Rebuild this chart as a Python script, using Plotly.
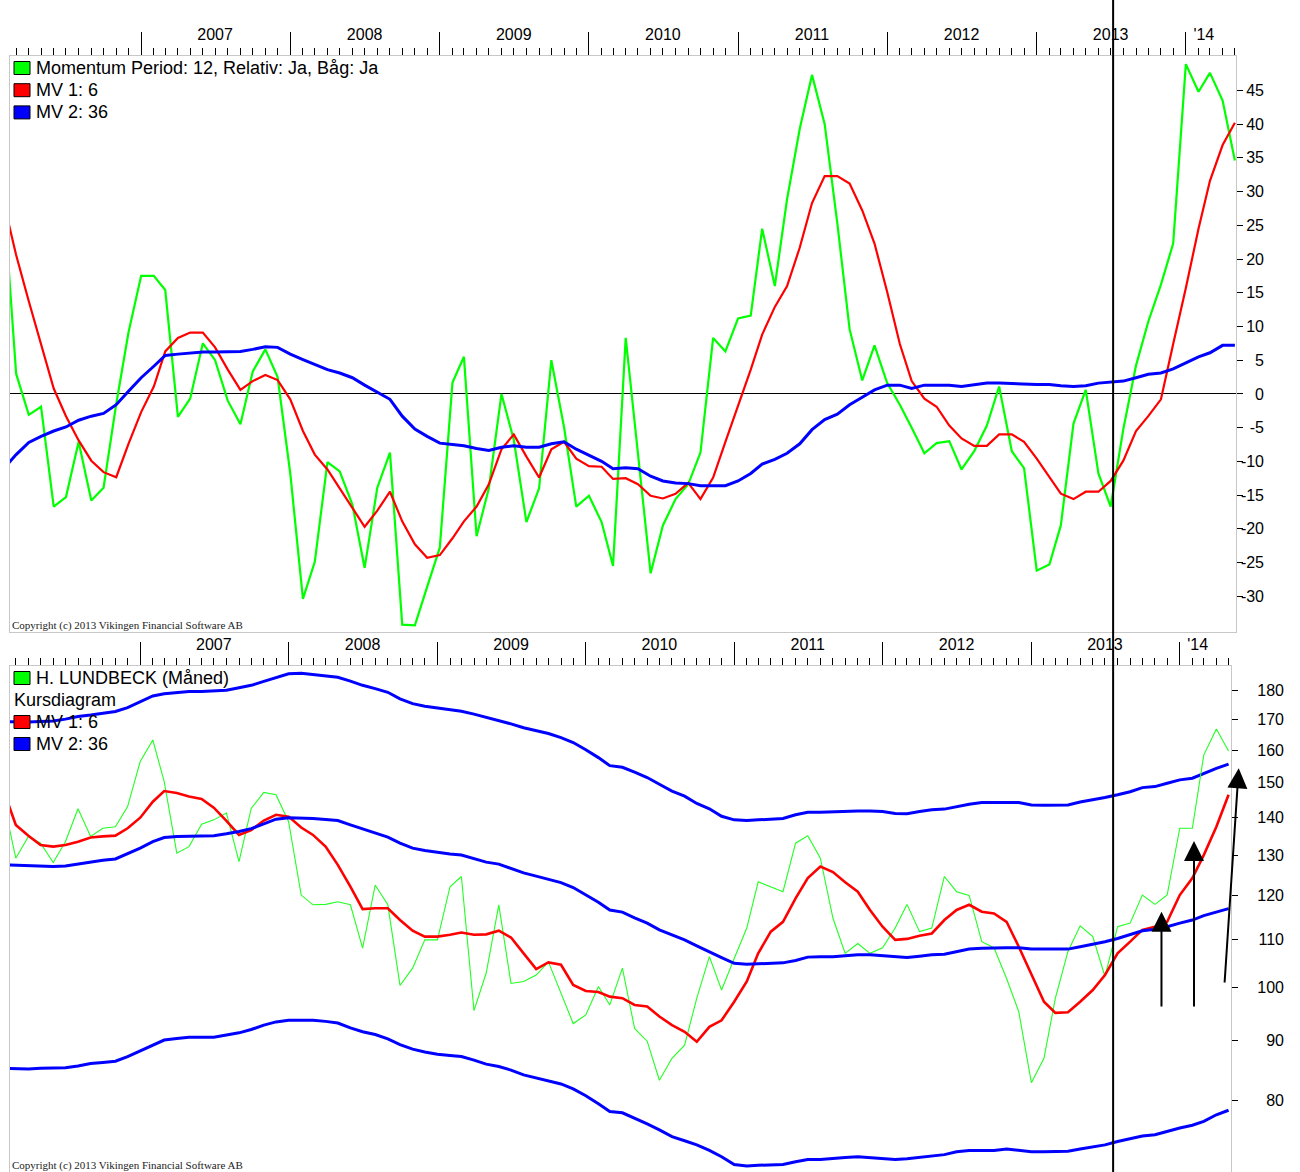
import math
import plotly.graph_objects as go

W, H = 1300, 1172

# ---------------- data (monthly, first point Feb 2006) ----------------
FIRST_YEAR, FIRST_MONTH, N = 2006, 2, 100
dates = []
for k in range(N):
    idx = FIRST_MONTH - 1 + k
    dates.append(f"{FIRST_YEAR + idx // 12}-{idx % 12 + 1:02d}-01")

momentum = [27.0, 3.0, -3.1, -1.9, -16.7, -15.3, -7.1, -15.8, -13.9, -1.5,
            9.1, 17.5, 17.5, 15.4, -3.4, -0.7, 7.5, 5.0, -1.0, -4.5,
            3.3, 6.6, 2.5, -11.8, -30.4, -24.9, -10.1, -11.5, -16.4, -25.8,
            -13.9, -8.7, -34.2, -34.3, -28.6, -22.8, 1.7, 5.5, -21.1, -14.0,
            0.0, -6.8, -19.0, -14.0, 5.0, -4.9, -16.7, -15.1, -19.0, -25.5,
            8.3, -9.0, -26.6, -19.5, -15.6, -13.4, -8.7, 8.3, 6.3, 11.2,
            11.6, 24.5, 16.0, 28.9, 39.3, 47.3, 40.0, 25.3, 9.6, 2.0,
            7.2, 1.6, -1.6, -5.0, -8.8, -7.3, -7.0, -11.2, -8.5, -4.7,
            1.1, -8.5, -11.0, -26.2, -25.3, -19.5, -4.4, 0.6, -11.8, -16.7,
            -5.2, 4.2, 10.7, 16.2, 22.3, 48.9, 44.8, 47.6, 43.5, 34.6]

momentum_mv6 = [27.8, 20.6, 13.75, 7.4, 0.8, -3.3, -6.9, -9.9, -11.6, -12.35,
                -7.4, -2.7, 1.1, 6.3, 8.3, 9.1, 9.1, 6.9, 3.6, 0.6,
                1.9, 2.8, 2.05, -0.8, -5.5, -9.0, -11.2, -14.0, -17.0, -19.7,
                -17.3, -14.5, -18.9, -22.3, -24.3, -23.9, -21.4, -18.9, -16.7, -13.4,
                -8.2, -6.0, -9.3, -12.4, -8.2, -7.1, -9.6, -10.7, -10.8, -12.6,
                -12.5, -13.4, -15.1, -15.5, -14.8, -13.2, -15.6, -12.4, -7.1, -1.9,
                3.6, 8.8, 12.9, 16.0, 21.7, 28.3, 32.3, 32.3, 31.2, 27.2,
                22.3, 15.1, 7.4, 1.9, -0.7, -1.9, -4.7, -6.6, -7.7, -7.7,
                -6.0, -6.0, -7.1, -9.6, -12.4, -14.8, -15.6, -14.5, -14.5, -12.9,
                -9.9, -5.5, -3.3, -0.8, 7.4, 15.7, 24.5, 31.6, 36.9, 40.2]

momentum_mv36 = [-10.9, -9.0, -7.2, -6.3, -5.5, -4.9, -3.9, -3.3, -2.9, -1.6,
                 0.4, 2.4, 4.1, 5.7, 5.9, 6.1, 6.2, 6.2, 6.2, 6.3,
                 6.6, 7.0, 6.9, 5.9, 5.1, 4.4, 3.6, 3.1, 2.4, 1.3,
                 0.3, -0.8, -3.3, -5.2, -6.3, -7.3, -7.5, -7.7, -8.1, -8.4,
                 -7.9, -7.7, -7.9, -7.9, -7.4, -7.1, -8.2, -9.05, -10.0, -11.1,
                 -10.95, -11.1, -12.2, -12.9, -13.2, -13.3, -13.6, -13.6, -13.6, -12.9,
                 -11.8, -10.4, -9.7, -8.8, -7.4, -5.3, -3.8, -3.0, -1.6, -0.5,
                 0.6, 1.3, 1.3, 0.8, 1.3, 1.3, 1.3, 1.1, 1.4, 1.6,
                 1.6, 1.5, 1.5, 1.4, 1.4, 1.2, 1.1, 1.2, 1.6, 1.8,
                 1.9, 2.4, 2.9, 3.1, 3.7, 4.6, 5.5, 6.1, 7.2, 7.2]

price = [143.4, 129.2, 134.9, 133.1, 128.1, 133.5, 142.5, 134.9, 137.1, 137.5,
         143.1, 156.5, 163.3, 150.4, 130.5, 132.2, 138.2, 139.4, 141.3, 128.3,
         142.6, 147.2, 146.5, 138.9, 120.1, 117.8, 117.9, 118.5, 117.8, 108.1,
         122.5, 117.8, 100.4, 103.9, 109.9, 109.9, 122.1, 124.6, 95.5, 102.9,
         117.8, 100.8, 101.2, 102.5, 105.2, 98.8, 93.1, 94.7, 100.2, 96.6,
         103.9, 92.2, 89.9, 83.2, 86.9, 89.2, 97.9, 106.3, 99.5, 105.9,
         112.5, 123.3, 122.1, 120.9, 133.1, 135.1, 129.2, 114.7, 107.0, 109.1,
         107.0, 108.2, 112.5, 117.9, 111.7, 112.5, 124.6, 120.9, 120.0, 109.5,
         108.2, 101.8, 95.3, 82.8, 86.9, 97.9, 107.4, 113.0, 110.6, 102.2,
         112.8, 113.6, 120.1, 117.9, 120.1, 137.1, 137.1, 158.5, 166.9, 159.8]

price_mv6 = [147.0, 138.0, 135.1, 132.6, 132.2, 132.6, 133.5, 134.6, 134.9, 135.1,
             137.1, 140.0, 144.5, 147.6, 147.0, 146.0, 145.3, 142.8, 139.1, 135.3,
             136.6, 139.2, 140.8, 140.3, 137.3, 135.3, 132.2, 127.5, 122.1, 116.8,
             117.0, 117.0, 114.3, 111.9, 110.6, 110.6, 111.0, 111.5, 111.0, 111.1,
             111.9, 110.4, 107.0, 103.7, 105.1, 104.6, 100.5, 99.3, 99.1, 98.2,
             97.9, 96.6, 96.3, 94.4, 92.8, 91.6, 89.8, 92.5, 93.7, 97.2,
             101.2, 107.0, 111.7, 113.9, 119.3, 124.2, 127.1, 125.7, 123.2, 120.9,
             116.6, 112.8, 109.9, 110.1, 110.8, 111.3, 114.3, 116.6, 117.8, 116.2,
             115.8, 113.9, 108.4, 102.5, 97.2, 95.1, 95.2, 97.2, 99.5, 102.5,
             107.0, 109.5, 112.1, 112.8, 113.9, 120.1, 124.2, 130.0, 137.5, 146.5]

price_mv36 = [127.5, 127.4, 127.2, 127.1, 127.1, 127.2, 127.7, 128.2, 128.7, 129.0,
              130.3, 131.8, 133.5, 134.6, 134.9, 135.0, 135.0, 135.1, 135.6, 136.2,
              137.0, 138.3, 139.6, 140.0, 140.0, 139.8, 139.5, 139.2, 138.0, 136.9,
              135.9, 134.7, 133.1, 131.8, 131.2, 130.7, 130.3, 130.0, 129.0, 128.2,
              127.7, 126.6, 125.5, 124.7, 124.0, 123.1, 121.9, 120.1, 118.4, 116.6,
              116.1, 114.8, 113.6, 112.1, 111.0, 109.9, 108.6, 107.4, 106.1, 104.9,
              104.7, 104.8, 104.9, 105.0, 105.5, 106.2, 106.3, 106.3, 106.5, 106.7,
              106.7, 106.5, 106.2, 106.1, 106.4, 106.7, 106.8, 107.4, 107.9, 108.1,
              108.2, 108.2, 108.2, 107.9, 107.9, 107.9, 107.9, 108.4, 108.9, 109.5,
              110.2, 111.0, 111.9, 112.2, 112.8, 113.6, 114.3, 115.3, 116.2, 116.9]

band_upper = [169.4, 169.3, 169.2, 169.4, 169.6, 170.2, 171.1, 171.6, 172.1, 172.8,
              174.1, 176.2, 178.2, 179.0, 179.5, 179.8, 179.8, 180.0, 180.2, 181.1,
              182.0, 183.4, 184.9, 186.2, 186.4, 185.9, 185.6, 184.9, 183.5, 182.0,
              180.8, 179.5, 177.2, 175.5, 174.6, 174.1, 173.6, 172.9, 171.9, 170.8,
              169.9, 168.6, 167.3, 166.4, 165.4, 164.1, 162.5, 160.2, 157.7, 155.2,
              154.7, 153.2, 151.6, 149.6, 147.6, 146.1, 144.0, 142.5, 140.4, 139.4,
              139.2, 139.4, 139.6, 139.8, 140.8, 141.5, 141.5, 141.7, 141.9, 141.9,
              141.9, 141.7, 141.2, 141.1, 141.7, 142.2, 142.4, 143.1, 143.8, 144.3,
              144.4, 144.3, 144.3, 143.6, 143.5, 143.5, 143.6, 144.4, 145.0, 145.7,
              146.5, 147.4, 148.6, 148.9, 149.9, 150.9, 151.4, 152.9, 154.4, 155.7]

band_lower = [85.2, 85.1, 85.1, 85.2, 85.2, 85.3, 85.6, 86.0, 86.2, 86.4,
              87.2, 88.2, 89.3, 90.1, 90.4, 90.6, 90.6, 90.6, 91.0, 91.4,
              92.0, 92.8, 93.4, 93.7, 93.7, 93.7, 93.5, 93.2, 92.3, 91.6,
              91.1, 90.3, 89.3, 88.5, 88.0, 87.6, 87.4, 87.2, 86.6, 85.9,
              85.5, 84.9, 84.1, 83.6, 83.1, 82.6, 81.8, 80.7, 79.4, 78.2,
              78.0, 77.2, 76.3, 75.4, 74.4, 73.8, 73.2, 72.4, 71.5, 70.4,
              70.2, 70.3, 70.3, 70.4, 70.8, 71.1, 71.1, 71.3, 71.4, 71.5,
              71.4, 71.2, 71.1, 71.2, 71.4, 71.5, 71.8, 72.2, 72.4, 72.4,
              72.4, 72.6, 72.4, 72.2, 72.2, 72.2, 72.3, 72.6, 72.9, 73.2,
              73.7, 74.1, 74.5, 74.7, 75.2, 75.7, 76.1, 76.7, 77.7, 78.4]

year_ticks = ["2007-01-01", "2008-01-01", "2009-01-01", "2010-01-01",
              "2011-01-01", "2012-01-01", "2013-01-01", "2014-01-01"]
year_label_pos = ["2007-07-01", "2008-07-01", "2009-07-01", "2010-07-01",
                  "2011-07-01", "2012-07-01", "2013-07-01", "2014-02-14"]
year_labels = ["2007", "2008", "2009", "2010", "2011", "2012", "2013", "'14"]
mom_ticks = [-30, -25, -20, -15, -10, -5, 0, 5, 10, 15, 20, 25, 30, 35, 40, 45]
price_ticks = [80, 90, 100, 110, 120, 130, 140, 150, 160, 170, 180]

mark_date = "2013-07-07"
# arrows: (tail date, tail price, head date, head price)
arrows = [("2013-11-17", 96.0, "2013-11-17", 116.2),
          ("2014-02-05", 96.0, "2014-02-05", 133.7),
          ("2014-04-21", 100.7, "2014-05-26", 154.4)]

top_legend = [("#00ff00", "Momentum Period: 12, Relativ: Ja, Båg: Ja"),
              ("#ff0000", "MV 1: 6"),
              ("#0000ff", "MV 2: 36")]
bottom_legend = [("#00ff00", "H. LUNDBECK (Måned)"),
                 (None, "Kursdiagram"),
                 ("#ff0000", "MV 1: 6"),
                 ("#0000ff", "MV 2: 36")]
copyright_text = "Copyright (c) 2013 Vikingen Financial Software AB"

# ---------------- layout geometry (pixels) ----------------
TOP = dict(x0=10, x1=1236, y0=56, y1=632)
BOT = dict(x0=10, x1=1231, y0=666, y1=1172)
TOP_RANGE = ["2006-02-14", "2014-05-03 18:00"]
BOT_RANGE = ["2006-02-14 17:00", "2014-05-07"]
MOM_RANGE = [-35.3, 50.1]
PRICE_RANGE = [math.log10(69.37), math.log10(189.1)]
TOP_LABEL_RIGHT = 1264
BOT_LABEL_RIGHT = 1284

def px(x):
    return x / W

def py(y):
    return 1 - y / H

TICK_FONT = dict(family="Liberation Sans Narrow, Liberation Sans, Arial Narrow, sans-serif",
                 size=16, color="#000000")
LEG_FONT = dict(family="Liberation Sans, Arial, sans-serif", size=18, color="#000000")
COPY_FONT = dict(family="Liberation Serif, Times New Roman, serif", size=11, color="#222222")
BORDER = "#c8c8c8"

fig = go.Figure()

# top panel traces
fig.add_trace(go.Scatter(x=dates, y=momentum, mode="lines", xaxis="x", yaxis="y",
                         line=dict(color="#00ff00", width=2.2)))
fig.add_trace(go.Scatter(x=dates, y=momentum_mv6, mode="lines", xaxis="x", yaxis="y",
                         line=dict(color="#ff0000", width=2.2)))
fig.add_trace(go.Scatter(x=dates, y=momentum_mv36, mode="lines", xaxis="x", yaxis="y",
                         line=dict(color="#0000ff", width=3)))

# bottom panel traces
fig.add_trace(go.Scatter(x=dates, y=band_upper, mode="lines", xaxis="x2", yaxis="y2",
                         line=dict(color="#0000ff", width=3)))
fig.add_trace(go.Scatter(x=dates, y=band_lower, mode="lines", xaxis="x2", yaxis="y2",
                         line=dict(color="#0000ff", width=3)))
fig.add_trace(go.Scatter(x=dates, y=price, mode="lines", xaxis="x2", yaxis="y2",
                         line=dict(color="#22ff22", width=1.1)))
fig.add_trace(go.Scatter(x=dates, y=price_mv6, mode="lines", xaxis="x2", yaxis="y2",
                         line=dict(color="#ff0000", width=2.6)))
fig.add_trace(go.Scatter(x=dates, y=price_mv36, mode="lines", xaxis="x2", yaxis="y2",
                         line=dict(color="#0000ff", width=3)))

# invisible anchors for the label-only axes
fig.add_trace(go.Scatter(x=[dates[50]], y=[0], xaxis="x3", yaxis="y3", mode="markers",
                         marker=dict(opacity=0), hoverinfo="skip"))
fig.add_trace(go.Scatter(x=[dates[50]], y=[100], xaxis="x4", yaxis="y4", mode="markers",
                         marker=dict(opacity=0), hoverinfo="skip"))

minor = dict(tickmode="linear", tick0="2006-01-01", dtick="M1", ticks="outside",
             ticklen=7, tickwidth=1, tickcolor="#000000", showgrid=False)

def tick_axis(domain, anchor, rng):
    return dict(domain=domain, anchor=anchor, side="top", type="date", range=rng,
                tickmode="array", tickvals=year_ticks, showticklabels=False,
                ticks="outside", ticklen=23, tickwidth=1, tickcolor="#000000",
                minor=minor, showgrid=False, zeroline=False, showline=True,
                linecolor=BORDER, linewidth=1, mirror=True, fixedrange=True)

def xlabel_axis(over, anchor, rng):
    return dict(overlaying=over, anchor=anchor, side="top", type="date", range=rng,
                tickmode="array", tickvals=year_label_pos, ticktext=year_labels,
                ticks="", showline=False, showgrid=False, zeroline=False,
                tickfont=TICK_FONT, ticklabelstandoff=12, fixedrange=True)

def ylabel_axis(over, pos, rng, vals, typ):
    return dict(overlaying=over, anchor="free", position=pos, side="left", type=typ,
                range=rng, tickmode="array", tickvals=vals,
                ticktext=[str(v) for v in vals], ticks="", showline=False,
                showgrid=False, zeroline=False, tickfont=TICK_FONT,
                ticklabelstandoff=0, fixedrange=True)

fig.update_layout(
    width=W, height=H, autosize=False,
    margin=dict(l=0, r=0, t=0, b=0, pad=0),
    paper_bgcolor="white", plot_bgcolor="white",
    showlegend=False, hovermode=False,
    xaxis=tick_axis([px(TOP["x0"]), px(TOP["x1"])], "y", TOP_RANGE),
    xaxis2=tick_axis([px(BOT["x0"]), px(BOT["x1"])], "y2", BOT_RANGE),
    xaxis3=xlabel_axis("x", "y", TOP_RANGE),
    xaxis4=xlabel_axis("x2", "y2", BOT_RANGE),
    yaxis=dict(domain=[py(TOP["y1"]), py(TOP["y0"])], anchor="x", side="right",
               range=MOM_RANGE, tickmode="array", tickvals=mom_ticks,
               showticklabels=False,
               ticks="outside", ticklen=6, tickcolor="#000000",
               showgrid=False, zeroline=True,
               zerolinecolor="#000000", zerolinewidth=1, showline=True,
               linecolor=BORDER, linewidth=1, mirror=True, fixedrange=True),
    yaxis2=dict(domain=[py(BOT["y1"]), py(BOT["y0"])], anchor="x2", side="right",
                type="log", range=PRICE_RANGE,
                tickmode="array", tickvals=price_ticks, showticklabels=False,
                ticks="outside", ticklen=6, tickcolor="#000000",
                showgrid=False, zeroline=False, showline=True,
                linecolor=BORDER, linewidth=1, mirror=True, fixedrange=True),
    yaxis3=ylabel_axis("y", px(TOP_LABEL_RIGHT), MOM_RANGE, mom_ticks, "linear"),
    yaxis4=ylabel_axis("y2", px(BOT_LABEL_RIGHT), PRICE_RANGE, price_ticks, "log"),
)

shapes = []
annotations = []

def legend_block(items, y_start, step):
    for i, (color, text) in enumerate(items):
        yc = y_start + i * step
        if color is not None:
            shapes.append(dict(type="rect", xref="paper", yref="paper",
                               x0=px(14), x1=px(30), y0=py(yc + 6.5), y1=py(yc - 6.5),
                               fillcolor=color, line=dict(color="#000000", width=1)))
            tx = 34
        else:
            tx = 12
        annotations.append(dict(text=text, xref="paper", yref="paper", x=px(tx), y=py(yc),
                                xanchor="left", yanchor="middle", showarrow=False,
                                font=LEG_FONT))

legend_block(top_legend, 68, 22.2)
legend_block(bottom_legend, 678, 22)

for yy in (625, 1165):
    annotations.append(dict(text=copyright_text, xref="paper", yref="paper",
                            x=px(10), y=py(yy), xanchor="left", yanchor="middle",
                            showarrow=False, font=COPY_FONT))

# vertical marker line across both panels
shapes.append(dict(type="line", xref="x", yref="paper", x0=mark_date, x1=mark_date,
                   y0=0, y1=1, line=dict(color="#000000", width=2), layer="above"))

for tx, ty, hx, hy in arrows:
    annotations.append(dict(text="", xref="x2", yref="y2", axref="x2", ayref="y2",
                            x=hx, y=math.log10(hy), ax=tx, ay=math.log10(ty),
                            showarrow=True, arrowhead=2, arrowsize=2, arrowwidth=2,
                            arrowcolor="#000000", standoff=0, startstandoff=0))

fig.update_layout(shapes=shapes, annotations=annotations)

fig.write_html("out.html", config={"displayModeBar": False},
               post_script="document.body.style.margin='0';document.body.style.overflow='hidden';")
